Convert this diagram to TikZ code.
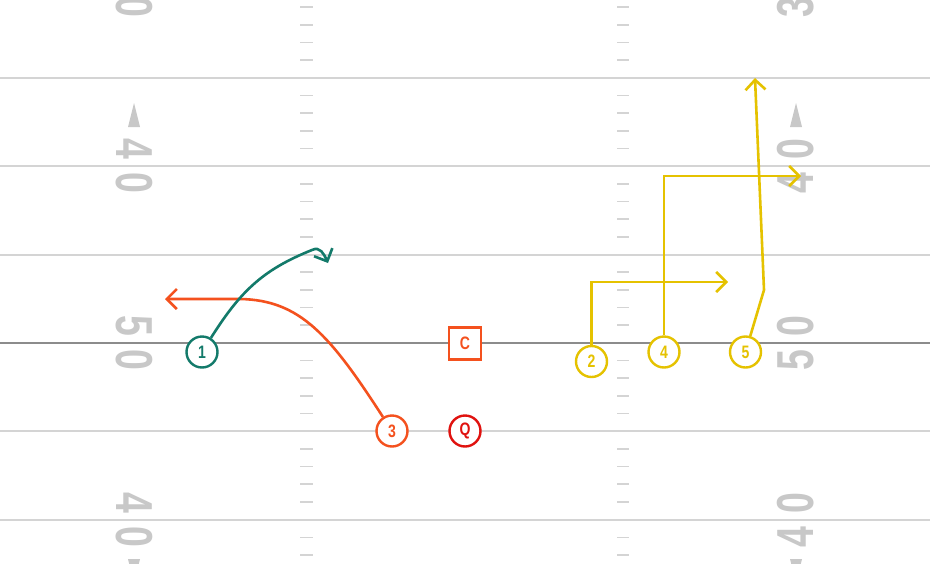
\documentclass[tikz,border=0pt]{standalone}
\usepackage{fontspec}
\usetikzlibrary{arrows.meta}
\newfontfamily\yardfont[FakeStretch=0.72]{Liberation Sans}
\newfontfamily\playerfont[FakeStretch=0.78]{Liberation Sans}
\definecolor{fieldgray}{HTML}{D4D4D4}
\definecolor{numgray}{HTML}{C8C8C8}
\definecolor{midgray}{HTML}{8C8C8C}
\definecolor{teamgreen}{HTML}{137A6A}
\definecolor{teamorange}{HTML}{F4511E}
\definecolor{teamred}{HTML}{E0120F}
\definecolor{teamyellow}{HTML}{E5C200}

\begin{document}
\begin{tikzpicture}[x=1pt,y=-1pt,
  yardline/.style={fieldgray, line width=2pt},
  midline/.style={midgray, line width=2pt},
  hash/.style={fieldgray, line width=1.6pt},
  yardnum/.style={numgray, inner sep=0pt, font=\yardfont\bfseries\fontsize{52}{52}\selectfont},
  player/.style={circle, draw=#1, text=#1, line width=2.4pt, fill=white, minimum size=31pt, inner sep=0pt,
    font=\playerfont\bfseries\fontsize{18}{18}\selectfont},
  snapbox/.style={rectangle, draw=#1, text=#1, line width=2.4pt, fill=white, minimum size=32pt, inner sep=0pt,
    font=\playerfont\bfseries\fontsize{18}{18}\selectfont},
  route/.style={#1, line width=2.6pt, -{Straight Barb[length=10pt,width=20pt]}}]

\fill[white] (0,0) rectangle (930,563);
\useasboundingbox (0,0) rectangle (930,563);
\clip (0,0) rectangle (930,563);

% Field lines
\foreach \y in {78,166.3,254.6,431.3,519.6}
  \draw[yardline] (0,\y) -- (930,\y);
\draw[midline] (0,343) -- (930,343);

% Hash marks
\foreach \i in {0,...,31} {
  \pgfmathtruncatemacro\m{mod(\i,5)}
  \ifnum\m=4 \else
    \draw[hash] (300,{7.2+17.67*\i}) -- (313,{7.2+17.67*\i});
    \draw[hash] (617,{7.2+17.67*\i}) -- (629,{7.2+17.67*\i});
  \fi
}

% Yard numbers
\foreach \y/\a/\b [count=\k] in {-10.3/3/0, 166.3/4/0, 343/5/0, 519.6/4/0} {
  \node[yardnum, rotate=-90] (left\k a) at (134,{\y-17}) {\a};
  \node[yardnum, rotate=-90] (left\k b) at (134,{\y+17}) {\b};
  \node[yardnum, rotate=90] (right\k a) at (796,{\y+17}) {\a};
  \node[yardnum, rotate=90] (right\k b) at (796,{\y-17}) {\b};
}

% Direction arrows
\fill[numgray] (128,127) -- (134,103) -- (140,127) -- cycle;
\fill[numgray] (790,127) -- (796,103) -- (802,127) -- cycle;
\fill[numgray] (128,559) -- (134,583) -- (140,559) -- cycle;
\fill[numgray] (790,559) -- (796,583) -- (802,559) -- cycle;

% Players
\node[player=teamgreen] (p1) at (202,352) {1};
\node[player=teamorange] (p3) at (392,431) {3};
\node[snapbox=teamorange] (c) at (465,343.5) {C};
\node[player=teamred] (q) at (465,431) {Q};
\node[player=teamyellow] (p2) at (591.5,361.5) {2};
\node[player=teamyellow] (p4) at (664,352) {4};
\node[player=teamyellow] (p5) at (745.5,352) {5};

% Route ends
\coordinate (r1end) at (328,263);
\coordinate (r3end) at (165,299);
\coordinate (r2end) at (728,282);
\coordinate (r4end) at (801,176);
\coordinate (r5end) at (755,78);

% Routes
\draw[route=teamorange] (p3) .. controls (330,335) and (300,300) .. (240,299) -- (r3end);
\draw[route=teamgreen] (p1) .. controls (240,292) and (262,270) .. (312,250)
  .. controls (320,246) and (324,254) .. (r1end);
\draw[route=teamyellow] (p2) |- (r2end);
\draw[route=teamyellow] (p4) |- (r4end);
\draw[route=teamyellow] (p5) -- (764,290) -- (r5end);

\end{tikzpicture}
\end{document}
